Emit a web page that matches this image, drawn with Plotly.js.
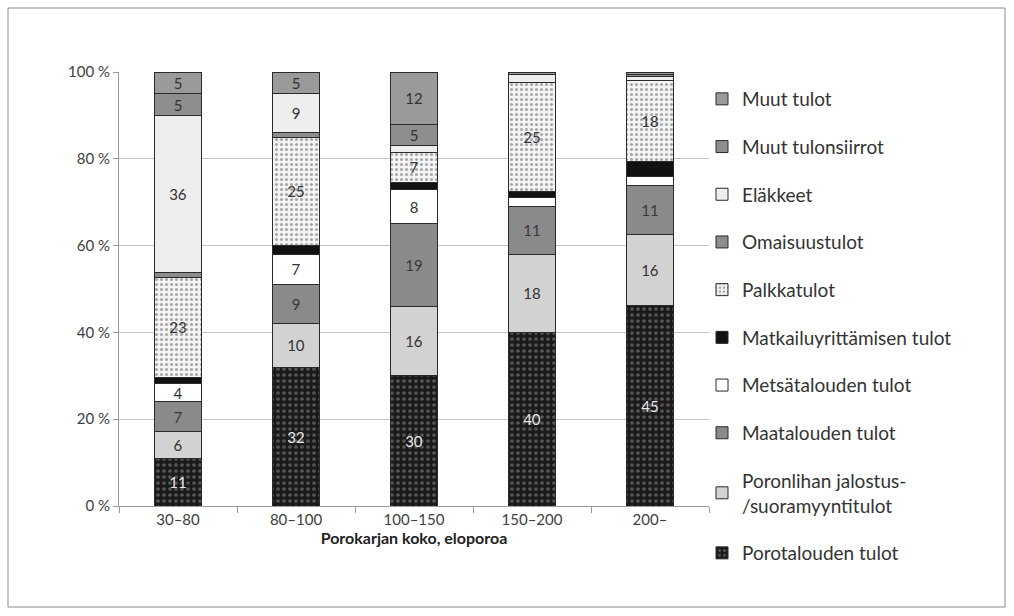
<!DOCTYPE html>
<html><head><meta charset="utf-8">
<script src="https://cdn.plot.ly/plotly-3.0.1.min.js"></script>
<style>html,body{margin:0;padding:0;background:#fff}#chart{width:1014px;height:616px}</style>
</head><body><div id="chart"></div>
<script>
const categories = ['30–80', '80–100', '100–150', '150–200', '200–'];
const seriesNames = ['Porotalouden tulot', 'Poronlihan jalostus-<br>/suoramyyntitulot', 'Maatalouden tulot',
  'Metsätalouden tulot', 'Matkailuyrittämisen tulot', 'Palkkatulot', 'Omaisuustulot', 'Eläkkeet',
  'Muut tulonsiirrot', 'Muut tulot'];
const porotalous   = [11, 32, 30, 40, 45];
const poronliha    = [6, 10, 16, 18, 16];
const maatalous    = [7, 9, 19, 11, 11];
const metsatalous  = [4, 7, 8, 2, 2];
const matkailu     = [1.5, 2, 1.5, 1.5, 3.5];
const palkka       = [23, 25, 7, 25, 18];
const omaisuus     = [1, 1, 0, 0, 0];
const elakkeet     = [36, 9, 1.5, 2, 1];
const tulonsiirrot = [5, 0, 5, 0, 0.5];
const muut         = [5, 5, 12, 0.5, 0.5];
const yTicks = [0, 20, 40, 60, 80, 100];
const yTickLabels = ['0 %', '20 %', '40 %', '60 %', '80 %', '100 %'];

const values = [porotalous, poronliha, maatalous, metsatalous, matkailu, palkka, omaisuus, elakkeet, tulonsiirrot, muut];
const styles = [
  {color:'#1a1a1a', pattern:{shape:'.', fgcolor:'#555555', bgcolor:'#1a1a1a', size:6, solidity:0.3}, tc:'#e8e8e8'},
  {color:'#d2d2d2', tc:'#333'},
  {color:'#8a8a8a', tc:'#3a3a3a'},
  {color:'#ffffff', tc:'#333'},
  {color:'#111111', tc:'#fff'},
  {color:'#f4f4f4', pattern:{shape:'.', fgcolor:'#a8a8a8', bgcolor:'#f4f4f4', size:5, solidity:0.3}, tc:'#333'},
  {color:'#8c8c8c', tc:'#333'},
  {color:'#eeeeee', tc:'#333'},
  {color:'#8e8e8e', tc:'#333'},
  {color:'#9a9a9a', tc:'#333'}
];

const traces = values.map((v, i) => ({
  type:'bar', x:categories, y:v, name:seriesNames[i], legendrank: 100 - i, legendgroup:'g' + i,
  text: v.map(d => d >= 4 ? String(d) : ''), textposition:'inside', insidetextanchor:'middle', textangle:0,
  textfont:{family:'Lato, sans-serif', size:15, color:styles[i].tc},
  marker:{color:styles[i].color, pattern:styles[i].pattern, line:{color:'#2a2a2a', width:1}},
  hoverinfo:'name+y'
}));

const L = 119, R = 305, T = 72, B = 110, W = 1014, H = 616;
const pw = W - L - R, ph = H - T - B;
const px = p => (p - L) / pw, py = p => (H - B - p) / ph;

const layout = {
  width:W, height:H, margin:{l:L, r:R, t:T, b:B, autoexpand:false},
  paper_bgcolor:'#fff', plot_bgcolor:'#fff',
  barmode:'stack', barnorm:'percent', bargap:0.6,
  font:{family:'Lato, sans-serif', size:15, color:'#404040'},
  uniformtext:{mode:'show', minsize:15},
  xaxis:{title:{text:'<b>Porokarjan koko, eloporoa</b>', font:{size:16, color:'#222'}, standoff:4},
    showline:true, linecolor:'#9a9a9a', ticks:'outside', tickson:'boundaries', ticklen:6, tickcolor:'#9a9a9a',
    tickfont:{size:15, color:'#404040'}},
  yaxis:{range:[0,100], tickvals:yTicks, ticktext:yTickLabels, showgrid:true, gridcolor:'#c4c4c4',
    showline:true, linecolor:'#9a9a9a', ticks:'outside', ticklen:5, tickcolor:'#9a9a9a', zeroline:false,
    tickfont:{size:15, color:'#404040'}},
  legend:{x:px(702), y:py(80), xanchor:'left', yanchor:'top', traceorder:'grouped',
    tracegroupgap:20, maxheight:560, font:{size:19, color:'#333'}, itemwidth:30, bgcolor:'rgba(0,0,0,0)'},
  shapes:[{type:'rect', xref:'paper', yref:'paper', x0:px(8), x1:px(1005), y0:py(607), y1:py(8),
    line:{color:'#8a8a8a', width:1}, fillcolor:'rgba(0,0,0,0)', layer:'below'}]
};

Plotly.newPlot('chart', traces, layout, {displayModeBar:false, staticPlot:true});
</script></body></html>
